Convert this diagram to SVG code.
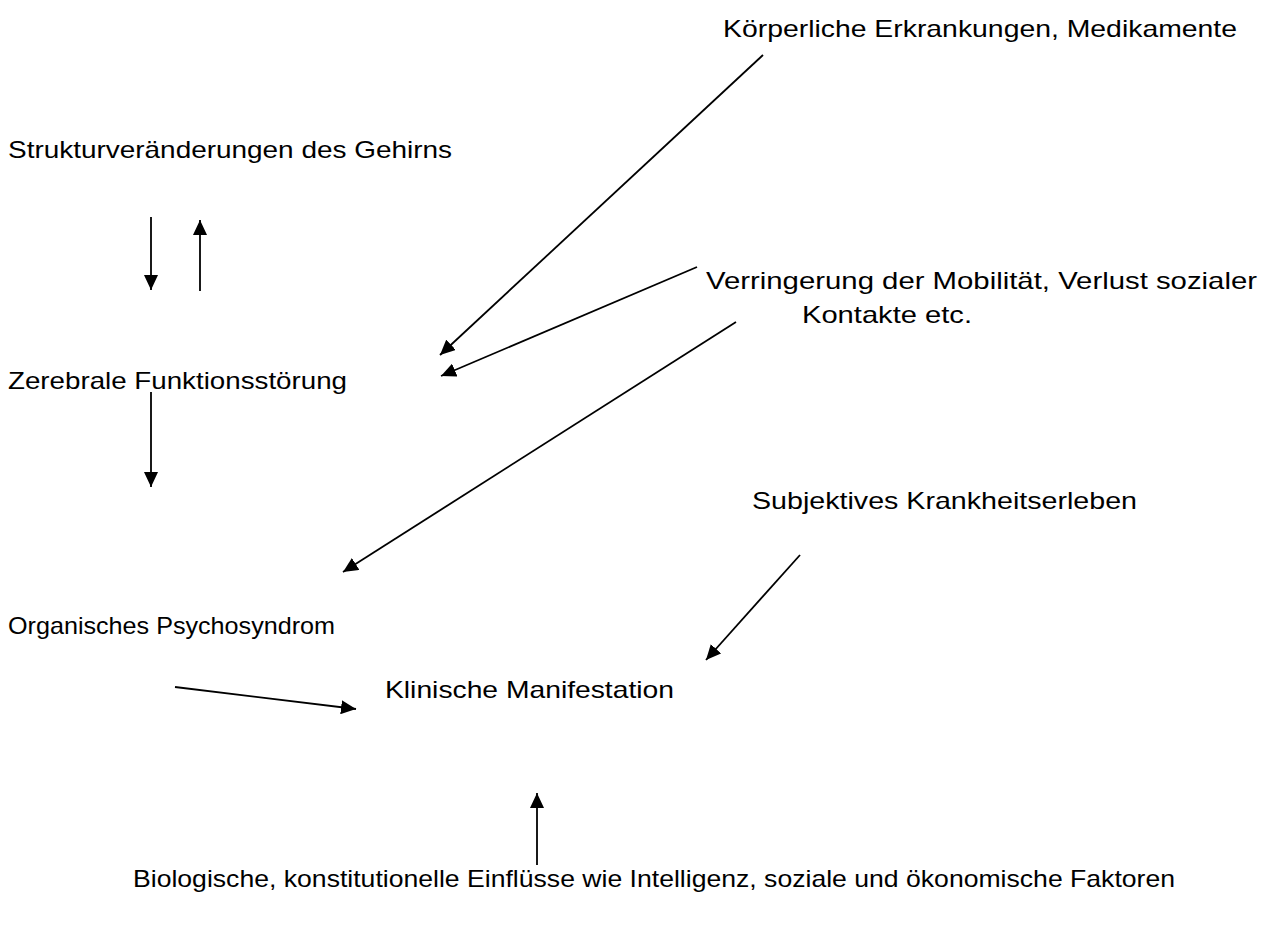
<svg xmlns="http://www.w3.org/2000/svg" width="1270" height="950" viewBox="0 0 1270 950">
<defs>
<marker id="ah" markerUnits="userSpaceOnUse" markerWidth="16" markerHeight="14" refX="15" refY="7" orient="auto">
<path d="M0,0 L15,7 L0,14 Z" fill="#000"/>
</marker>
<style>
text{font-family:"Liberation Sans",Arial,sans-serif;font-size:24px;fill:#000}
.c line{stroke:#000;stroke-width:1.8;marker-end:url(#ah)}
</style>
</defs>
<rect width="1270" height="950" fill="#fff"/>
<g id="koerper"><text x="723" y="37" textLength="514" lengthAdjust="spacingAndGlyphs">Körperliche Erkrankungen, Medikamente</text></g>
<g id="struktur"><text x="8" y="158" textLength="444" lengthAdjust="spacingAndGlyphs">Strukturveränderungen des Gehirns</text></g>
<g id="mobilitaet"><text x="706" y="289" textLength="551" lengthAdjust="spacingAndGlyphs">Verringerung der Mobilität, Verlust sozialer</text><text x="802" y="323" textLength="170" lengthAdjust="spacingAndGlyphs">Kontakte etc.</text></g>
<g id="zerebral"><text x="8" y="389" textLength="339" lengthAdjust="spacingAndGlyphs">Zerebrale Funktionsstörung</text></g>
<g id="subjektiv"><text x="752" y="509" textLength="385" lengthAdjust="spacingAndGlyphs">Subjektives Krankheitserleben</text></g>
<g id="organisch"><text x="8" y="634" textLength="327" lengthAdjust="spacingAndGlyphs">Organisches Psychosyndrom</text></g>
<g id="klinisch"><text x="385" y="698" textLength="289" lengthAdjust="spacingAndGlyphs">Klinische Manifestation</text></g>
<g id="biologisch"><text x="133" y="887" textLength="1042" lengthAdjust="spacingAndGlyphs">Biologische, konstitutionelle Einflüsse wie Intelligenz, soziale und ökonomische Faktoren</text></g>
<g id="connectors" class="c">
<line x1="151" y1="217" x2="151" y2="290"/>
<line x1="200" y1="291" x2="200" y2="220"/>
<line x1="151" y1="392" x2="151" y2="487"/>
<line x1="763" y1="55" x2="440" y2="355"/>
<line x1="697" y1="267" x2="441" y2="376"/>
<line x1="736" y1="322" x2="343" y2="572"/>
<line x1="800" y1="555" x2="706" y2="660"/>
<line x1="175" y1="687" x2="356" y2="709"/>
<line x1="537" y1="865" x2="537" y2="793"/>
</g>
</svg>
